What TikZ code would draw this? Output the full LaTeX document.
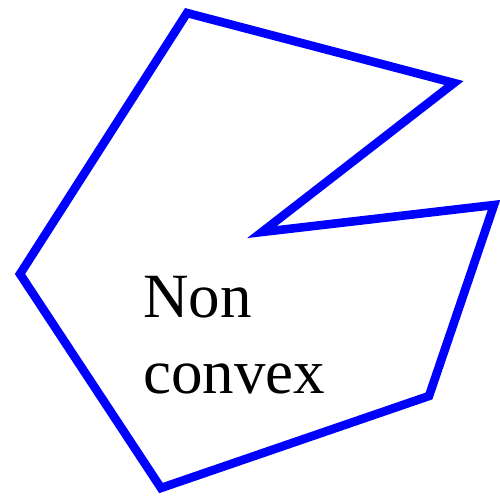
\documentclass[tikz,border=0pt]{standalone}
\usepackage{fontspec}
\setmainfont{Liberation Serif}
\begin{document}
\begin{tikzpicture}[x=1pt,y=-1pt,
  polyline/.style={draw=blue,line width=8.6pt,line join=miter},
  lbl/.style={anchor=base west,inner sep=0pt,font=\fontsize{63}{76}\selectfont}]
\useasboundingbox (0,0) rectangle (500,500);
\coordinate (p1) at (187,13);
\coordinate (p2) at (454,83);
\coordinate (p3) at (262,232);
\coordinate (p4) at (494,205);
\coordinate (p5) at (429,396);
\coordinate (p6) at (161,488);
\coordinate (p7) at (20,274);
\draw[polyline] (p1) -- (p2) -- (p3) -- (p4) -- (p5) -- (p6) -- (p7) -- cycle;
\node[lbl] (t1) at (143,317) {Non};
\node[lbl] (t2) at (143,393) {convex};
\end{tikzpicture}
\end{document}
